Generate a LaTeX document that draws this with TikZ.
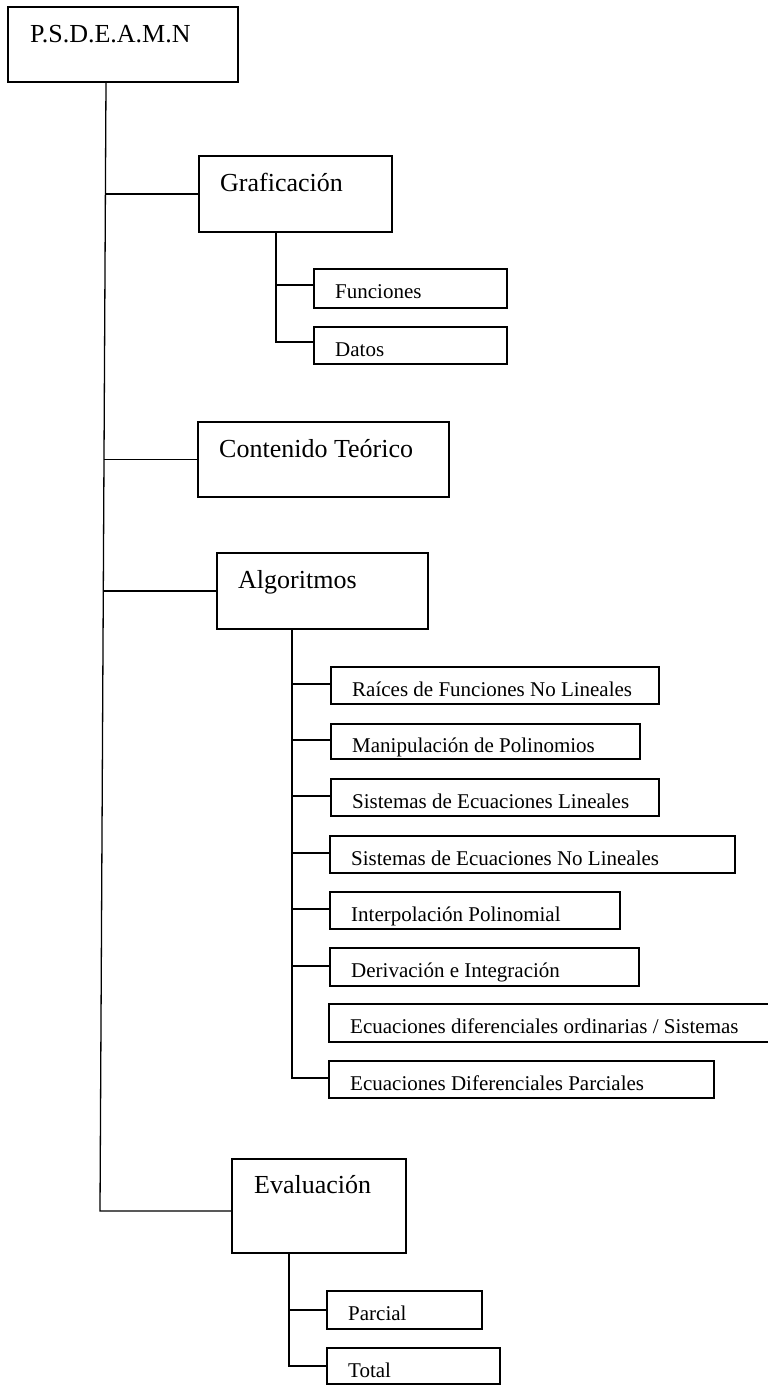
\documentclass[tikz,border=0pt]{standalone}
\usepackage{fontspec}
\setmainfont{Liberation Serif}
\begin{document}
\begin{tikzpicture}[x=1pt,y=-1pt,
  box/.style={draw, line width=1.6pt, rectangle, inner sep=0pt, outer sep=0pt, anchor=north west},
  bigtext/.style={font=\fontsize{26}{30}\selectfont, inner sep=0pt, anchor=base west},
  smalltext/.style={font=\fontsize{21}{25}\selectfont, inner sep=0pt, anchor=base west},
  link/.style={line width=1.3pt}]
\useasboundingbox (0,0) rectangle (768,1385);

% ---- boxes ----
\node[box, minimum width=230pt, minimum height=75pt] (psd) at (8,7) {};
\node[box, minimum width=193pt, minimum height=76pt] (gra) at (199,156) {};
\node[box, minimum width=193pt, minimum height=39pt] (fun) at (314,269) {};
\node[box, minimum width=193pt, minimum height=37pt] (dat) at (314,327) {};
\node[box, minimum width=251pt, minimum height=75pt] (con) at (198,422) {};
\node[box, minimum width=211pt, minimum height=76pt] (alg) at (217,553) {};
\node[box, minimum width=328pt, minimum height=37pt] (rai) at (331,667) {};
\node[box, minimum width=309pt, minimum height=35pt] (man) at (331,724) {};
\node[box, minimum width=328pt, minimum height=37pt] (sel) at (331,779) {};
\node[box, minimum width=405pt, minimum height=37pt] (snl) at (330,836) {};
\node[box, minimum width=290pt, minimum height=37pt] (int) at (330,892) {};
\node[box, minimum width=309pt, minimum height=38pt] (der) at (330,948) {};
\node[box, minimum width=446pt, minimum height=38pt] (edo) at (329,1004) {};
\node[box, minimum width=385pt, minimum height=37pt] (edp) at (329,1061) {};
\node[box, minimum width=174pt, minimum height=94pt] (eva) at (232,1159) {};
\node[box, minimum width=155pt, minimum height=38pt] (par) at (327,1291) {};
\node[box, minimum width=173pt, minimum height=36pt] (tot) at (327,1348) {};

% ---- labels ----
\node[bigtext] (psd-t) at (30,42) {P.S.D.E.A.M.N};
\node[bigtext] (gra-t) at (220,191) {Graficación};
\node[smalltext] (fun-t) at (335,298) {Funciones};
\node[smalltext] (dat-t) at (335,356) {Datos};
\node[bigtext] (con-t) at (219,457) {Contenido Teórico};
\node[bigtext] (alg-t) at (238,588) {Algoritmos};
\node[smalltext] (rai-t) at (352,696) {Raíces de Funciones No Lineales};
\node[smalltext] (man-t) at (352,752) {Manipulación de Polinomios};
\node[smalltext] (sel-t) at (352,808) {Sistemas de Ecuaciones Lineales};
\node[smalltext] (snl-t) at (351,865) {Sistemas de Ecuaciones No Lineales};
\node[smalltext] (int-t) at (351,921) {Interpolación Polinomial};
\node[smalltext] (der-t) at (351,977) {Derivación e Integración};
\node[smalltext] (edo-t) at (350,1033) {Ecuaciones diferenciales ordinarias / Sistemas};
\node[smalltext] (edp-t) at (350,1090) {Ecuaciones Diferenciales Parciales};
\node[bigtext] (eva-t) at (254,1193) {Evaluación};
\node[smalltext] (par-t) at (348,1320) {Parcial};
\node[smalltext] (tot-t) at (348,1377) {Total};

% ---- main trunk ----
\coordinate (t0) at (106,82);
\coordinate (tg) at (105.4,194);
\coordinate (tc) at (104,459.5);
\coordinate (ta) at (103.3,591);
\coordinate (te) at (100,1211);
\draw[link] (t0) -- (te) -- (te -| eva.west);
\draw[link] (tg) -- (gra.west);
\draw[link] (tc) -- (con.west);
\draw[link] (ta) -- (alg.west);

% ---- Graficación branch ----
\coordinate (g0) at (276,232);
\coordinate (g1) at (276,285);
\coordinate (g2) at (276,342);
\draw[link] (g0) -- (g2) -- (g2 -| dat.west);
\draw[link] (g1) -- (g1 -| fun.west);

% ---- Algoritmos branch ----
\coordinate (a0) at (292,629);
\coordinate (a1) at (292,684);
\coordinate (a2) at (292,740);
\coordinate (a3) at (292,796);
\coordinate (a4) at (292,853);
\coordinate (a5) at (292,909);
\coordinate (a6) at (292,966);
\coordinate (a8) at (292,1078);
\draw[link] (a0) -- (a8) -- (a8 -| edp.west);
\draw[link] (a1) -- (a1 -| rai.west);
\draw[link] (a2) -- (a2 -| man.west);
\draw[link] (a3) -- (a3 -| sel.west);
\draw[link] (a4) -- (a4 -| snl.west);
\draw[link] (a5) -- (a5 -| int.west);
\draw[link] (a6) -- (a6 -| der.west);

% ---- Evaluación branch ----
\coordinate (e0) at (289,1253);
\coordinate (e1) at (289,1310);
\coordinate (e2) at (289,1366);
\draw[link] (e0) -- (e2) -- (e2 -| tot.west);
\draw[link] (e1) -- (e1 -| par.west);
\end{tikzpicture}
\end{document}
